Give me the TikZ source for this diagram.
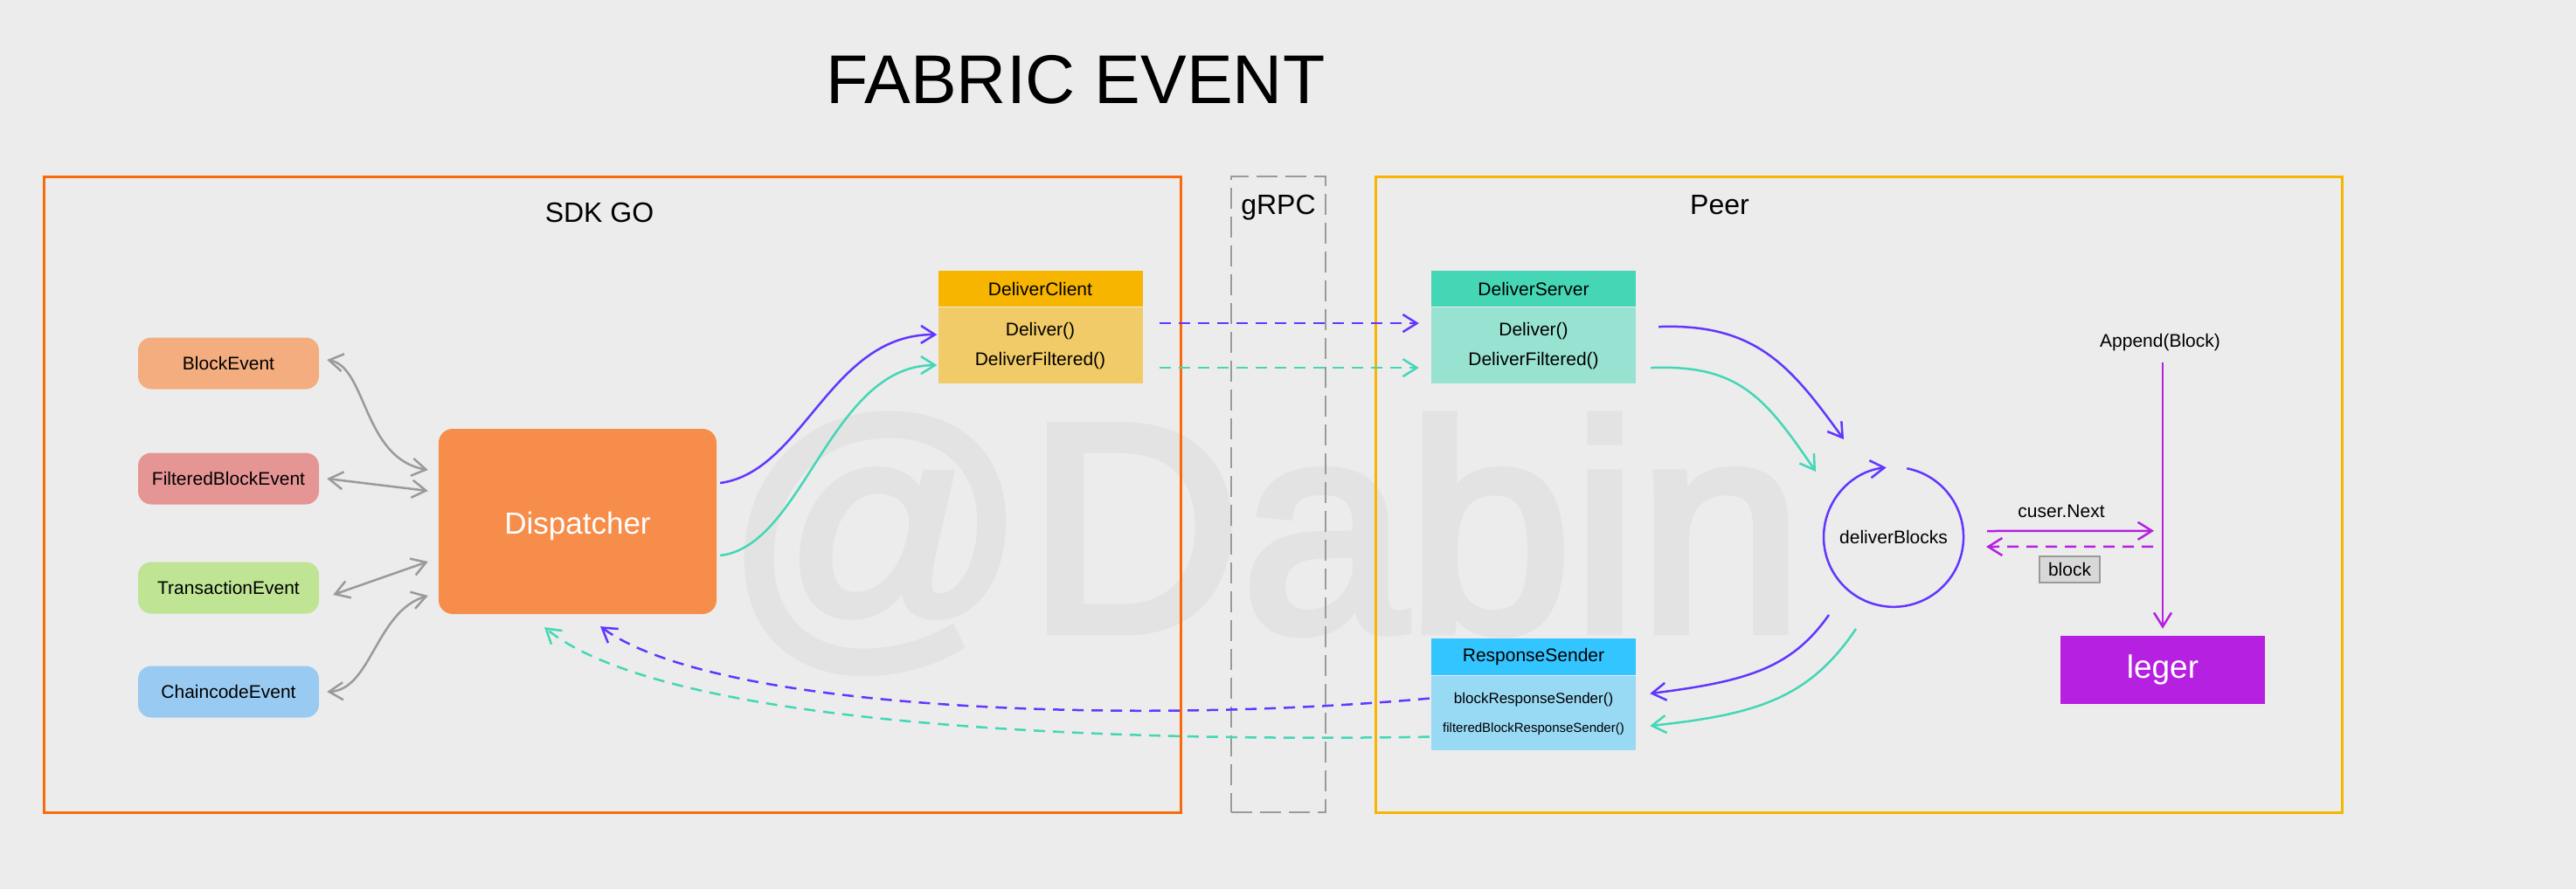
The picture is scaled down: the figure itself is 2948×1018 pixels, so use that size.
\documentclass[tikz,border=0pt]{standalone}
\usepackage{fontspec}
\setmainfont{Liberation Sans}
\newfontfamily\wmfont[FakeBold=3]{Liberation Sans}
\usetikzlibrary{arrows.meta,calc}
\definecolor{bg}{HTML}{ECECEC}
\definecolor{sdkc}{HTML}{F76B0A}
\definecolor{peerc}{HTML}{F7B500}
\definecolor{grayl}{HTML}{9A9A9A}
\definecolor{purp}{HTML}{6236FF}
\definecolor{tealc}{HTML}{44D7B6}
\definecolor{mag}{HTML}{B620E0}
\definecolor{wm}{HTML}{E3E3E3}
\definecolor{beC}{HTML}{F4AD7F}
\definecolor{fbC}{HTML}{E69595}
\definecolor{txC}{HTML}{BEE494}
\definecolor{ccC}{HTML}{99CBF2}
\definecolor{dispC}{HTML}{F78D4A}
\definecolor{dcH}{HTML}{F7B500}
\definecolor{dcB}{HTML}{F1CB67}
\definecolor{dsH}{HTML}{45D7B5}
\definecolor{dsB}{HTML}{98E2D2}
\definecolor{rsH}{HTML}{33C5FF}
\definecolor{rsB}{HTML}{98D9F4}
\definecolor{blockC}{HTML}{D8D8D8}
\newcommand{\myfs}[1]{\fontsize{#1}{#1}\selectfont}
\tikzset{
  evbox/.style={rounded corners=15pt, minimum width=207pt, minimum height=59pt, inner sep=0pt, font=\myfs{21}},
  hdr/.style={minimum width=234pt, minimum height=41pt, inner sep=0pt, font=\myfs{21}, anchor=north},
  bdy/.style={minimum width=234pt, minimum height=87pt, inner sep=0pt, anchor=north},
  lbl/.style={inner sep=0pt, font=\myfs{21}},
  endtip/.style={-{Straight Barb[length=16pt,width=20pt]}},
  bothtip/.style={{Straight Barb[length=16pt,width=20pt]}-{Straight Barb[length=16pt,width=20pt]}},
  conn/.style={line width=2.5pt},
  dsh/.style={dash pattern=on 13pt off 9pt},
  container/.style={line width=2.5pt, minimum height=728pt, inner sep=0pt, anchor=north west},
}
\begin{document}
\begin{tikzpicture}[x=1pt,y=-1pt]
\fill[bg] (0,0) rectangle (2948,1018);
\useasboundingbox (0,0) rectangle (2948,1018);
% watermark
\node[font=\wmfont\myfs{340}, anchor=base west, inner sep=0pt, text=wm] (wmk) at (830,722) {@Dabin};
% title
\node[font=\myfs{79}, inner sep=0pt, anchor=base] (title) at (1231,118) {FABRIC EVENT};
% containers
\node[container, draw=sdkc, minimum width=1301pt] (sdk) at (49,201) {};
\node[container, draw=grayl, line width=2pt, dash pattern=on 24pt off 9pt, minimum width=108pt] (grpc) at (1408,201) {};
\node[container, draw=peerc, minimum width=1106pt] (peer) at (1573,201) {};
\node[lbl, font=\myfs{32}, anchor=base] (sdkl) at (686,254) {SDK GO};
\node[lbl, font=\myfs{32}, anchor=base] (grpcl) at (1463,245) {gRPC};
\node[lbl, font=\myfs{32}, anchor=base] (peerl) at (1968,245) {Peer};
% events
\node[evbox, fill=beC] (be) at (261.5,416) {BlockEvent};
\node[evbox, fill=fbC] (fb) at (261.5,548) {FilteredBlockEvent};
\node[evbox, fill=txC] (tx) at (261.5,673) {TransactionEvent};
\node[evbox, fill=ccC] (cc) at (261.5,792) {ChaincodeEvent};
\node[rounded corners=16pt, fill=dispC, minimum width=318pt, minimum height=212pt, inner sep=0pt, text depth=0pt, text=white, font=\myfs{35}] (disp) at (661,597) {\raisebox{-4pt}{Dispatcher}};
% DeliverClient
\node[hdr, fill=dcH] (dch) at (1190.5,310) {DeliverClient};
\node[bdy, fill=dcB] (dcb) at (dch.south) {};
\node[lbl] (dc1) at (1190.5,379) {Deliver()};
\node[lbl] (dc2) at (1190.5,413) {DeliverFiltered()};
% DeliverServer
\node[hdr, fill=dsH] (dsh) at (1755,310) {DeliverServer};
\node[bdy, fill=dsB] (dsb) at (dsh.south) {};
\node[lbl] (ds1) at (1755,379) {Deliver()};
\node[lbl] (ds2) at (1755,413) {DeliverFiltered()};
% ResponseSender
\node[hdr, fill=rsH, minimum height=42pt] (rsh) at (1755,731) {ResponseSender};
\node[bdy, fill=rsB, minimum height=85pt] (rsb) at (rsh.south) {};
\node[lbl, font=\myfs{17}] (rs1) at (1755,801) {blockResponseSender()};
\node[lbl, font=\myfs{15}] (rs2) at (1755,835) {filteredBlockResponseSender()};
% deliverBlocks
\node[circle, minimum size=160pt, inner sep=0pt, font=\myfs{21}] (db) at (2167,615) {deliverBlocks};
\draw[purp, conn, endtip] (db.79) arc[start angle=-79, end angle=264, radius=80];
% ledger side
\node[lbl] (ap) at (2472,392) {Append(Block)};
\node[fill=mag, minimum width=234pt, minimum height=78pt, inner sep=0pt, text=white, font=\myfs{37}] (leg) at (2475,767) {leger};
\node[lbl] (cnl) at (2359,585) {cuser.Next};
\node[draw=grayl, line width=2pt, fill=blockC, minimum width=69pt, minimum height=30pt, inner sep=0pt, font=\myfs{21}] (blk) at (2368.5,652) {block};
% gray event arrows
\draw[grayl, conn, bothtip] ([shift={(9,-4)}]be.east) .. controls (420,420) and (415,525) .. ([shift={(-12,-59)}]disp.west);
\draw[grayl, conn, bothtip] ([shift={(9,0)}]fb.east) -- ([shift={(-12,-35)}]disp.west);
\draw[grayl, conn, bothtip] ([shift={(16,8)}]tx.east) -- ([shift={(-12,46)}]disp.west);
\draw[grayl, conn, bothtip] ([shift={(9,0)}]cc.east) .. controls (425,790) and (430,700) .. ([shift={(-12,85)}]disp.west);
% dispatcher to DeliverClient
\draw[purp, conn, endtip] ([shift={(4,-44)}]disp.east) .. controls (920,540) and (950,382) .. ([shift={(-1,-12)}]dcb.west);
\draw[tealc, conn, endtip] ([shift={(4,39)}]disp.east) .. controls (920,625) and (950,418) .. ([shift={(-1,23)}]dcb.west);
% gRPC dashed
\draw[purp, conn, dsh, endtip] ([shift={(19,-25)}]dcb.east) -- ([shift={(-14,-25)}]dsb.west);
\draw[tealc, conn, dsh, endtip] ([shift={(19,26)}]dcb.east) -- ([shift={(-14,26)}]dsb.west);
% server to deliverBlocks
\draw[purp, conn, endtip] ([shift={(26,-21)}]dsb.east) .. controls (2010,370) and (2050,420) .. ([shift={(-57,-112)}]db.center);
\draw[tealc, conn, endtip] ([shift={(17,26)}]dsb.east) .. controls (1990,417) and (2020,455) .. ([shift={(-89,-75)}]db.center);
% deliverBlocks to ResponseSender
\draw[purp, conn, endtip] ([shift={(-74,89)}]db.center) .. controls (2050,765) and (2000,780) .. ([shift={(16,-22)}]rsb.east);
\draw[tealc, conn, endtip] ([shift={(-43,105)}]db.center) .. controls (2070,800) and (2010,818) .. ([shift={(16,15)}]rsb.east);
% return dashed
\draw[purp, conn, dsh, endtip] ([shift={(-2,-16.5)}]rsb.west) .. controls (1300,830) and (820,815) .. ([shift={(26,14)}]disp.south);
\draw[tealc, conn, dsh, endtip] ([shift={(-2,27.5)}]rsb.west) .. controls (1250,850) and (760,830) .. ([shift={(-38,15)}]disp.south);
% ledger arrows
\draw[mag, conn, endtip] ([shift={(3,23)}]ap.center) -- ([shift={(0,-8)}]leg.north);
\draw[mag, conn, endtip] ([shift={(107,-7)}]db.center) -- ([shift={(-10,-120)}]leg.north);
\draw[mag, conn, dsh, endtip] ([shift={(-11,-102)}]leg.north) -- ([shift={(106,11)}]db.center);
\end{tikzpicture}
\end{document}
